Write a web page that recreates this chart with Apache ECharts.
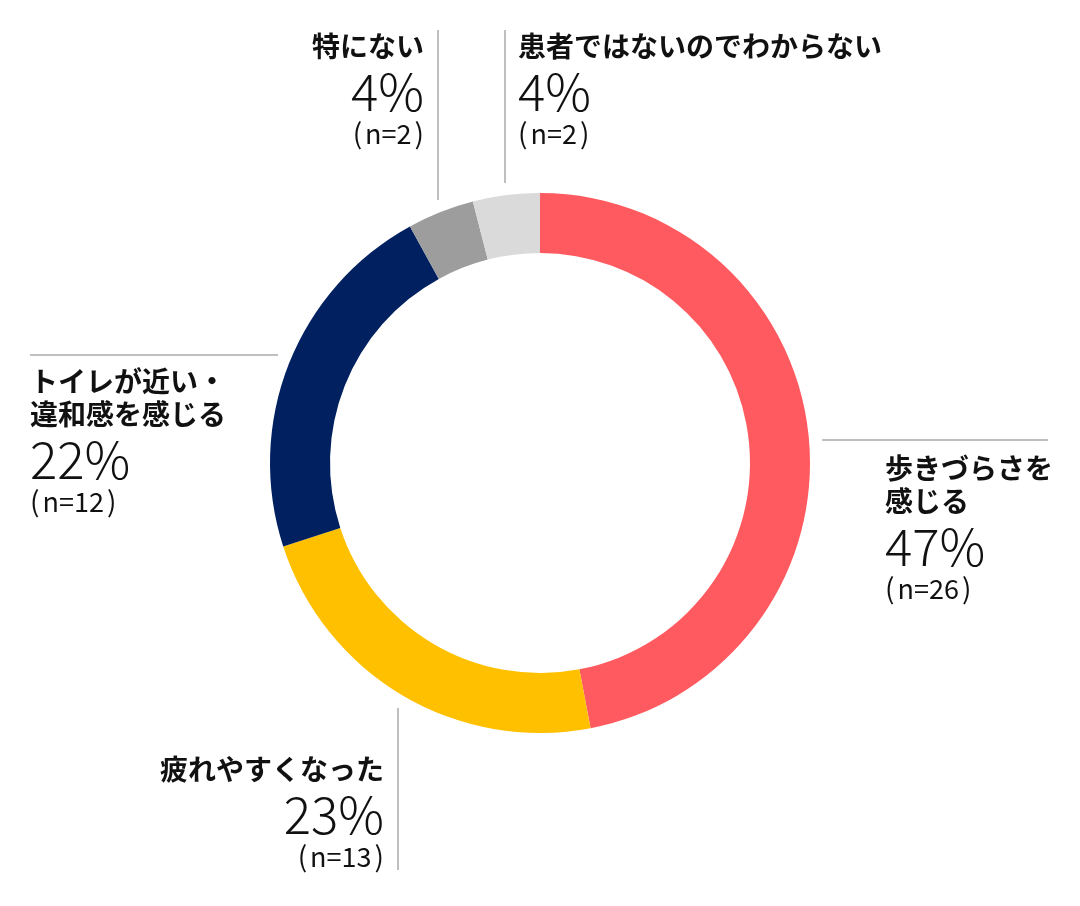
<!DOCTYPE html>
<html>
<head>
<meta charset="utf-8">
<script src="https://cdn.jsdelivr.net/npm/echarts@6/dist/echarts.min.js"></script>
<style>
html,body{margin:0;padding:0;background:#fff;}
#c{width:1080px;height:906px;}
</style>
</head>
<body>
<div id="c"></div>
<script>
// Data
var categories = ['歩きづらさを\n感じる', '疲れやすくなった', 'トイレが近い・\n違和感を感じる', '特にない', '患者ではないのでわからない'];
var percents = [47, 23, 22, 4, 4];
var counts = [26, 13, 12, 2, 2];
var colors = ['#FF5A5F', '#FFC000', '#002060', '#9D9D9D', '#DADADA'];

// Label layout (positions only)
var labelPos = [
  {x: 885, y: 452, align: 'left'},
  {x: 384, y: 753, align: 'right'},
  {x: 30, y: 365, align: 'left'},
  {x: 424, y: 30, align: 'right'},
  {x: 518, y: 30, align: 'left'}
];

var FONT = '"Noto Sans CJK JP", "Noto Sans", sans-serif';

function richFor(align) {
  return {
    t: {fontFamily: FONT, fontSize: 28, fontWeight: 'bold', color: '#111', lineHeight: 33, align: align},
    p: {fontFamily: FONT, fontSize: 51, fontWeight: 300, color: '#111', lineHeight: 57, align: align},
    n: {fontFamily: FONT, fontSize: 27, fontWeight: 400, color: '#111', lineHeight: 27, align: align},
    ql: {fontFamily: FONT, fontSize: 28, fontWeight: 400, color: '#111', lineHeight: 27, align: align, padding: [0, 3, 0, 0]},
    qr: {fontFamily: FONT, fontSize: 28, fontWeight: 400, color: '#111', lineHeight: 27, align: align, padding: [0, 0, 0, 3]}
  };
}

var data = categories.map(function (name, i) {
  var titleLines = name.split('\n').map(function (s) { return '{t|' + s + '}'; }).join('\n');
  return {
    name: name,
    value: percents[i],
    itemStyle: {color: colors[i]},
    label: {
      formatter: titleLines + '\n{p|' + percents[i] + '%}\n{ql|(}{n|n=' + counts[i] + '}{qr|)}',
      rich: richFor(labelPos[i].align),
      align: labelPos[i].align
    }
  };
});

var lineStyle = {stroke: '#AAAAAA', lineWidth: 1.5};
var chart = echarts.init(document.getElementById('c'));
chart.setOption({
  backgroundColor: '#fff',
  animation: false,
  series: [{
    type: 'pie',
    center: [540, 463],
    radius: [210, 270],
    startAngle: 90,
    clockwise: true,
    avoidLabelOverlap: false,
    label: {show: true, position: 'outside'},
    labelLine: {show: false},
    emphasis: {disabled: true},
    labelLayout: function (params) {
      var p = labelPos[params.dataIndex];
      return {x: p.x, y: p.y, align: p.align, verticalAlign: 'top', hideOverlap: false, moveOverlap: null};
    },
    data: data
  }],
  graphic: [
    {type: 'line', shape: {x1: 438, y1: 30, x2: 438, y2: 200}, style: lineStyle, silent: true},
    {type: 'line', shape: {x1: 505, y1: 30, x2: 505, y2: 183}, style: lineStyle, silent: true},
    {type: 'line', shape: {x1: 30, y1: 355, x2: 278, y2: 355}, style: lineStyle, silent: true},
    {type: 'line', shape: {x1: 822, y1: 440, x2: 1048, y2: 440}, style: lineStyle, silent: true},
    {type: 'line', shape: {x1: 398, y1: 708, x2: 398, y2: 870}, style: lineStyle, silent: true}
  ]
});
</script>
</body>
</html>
